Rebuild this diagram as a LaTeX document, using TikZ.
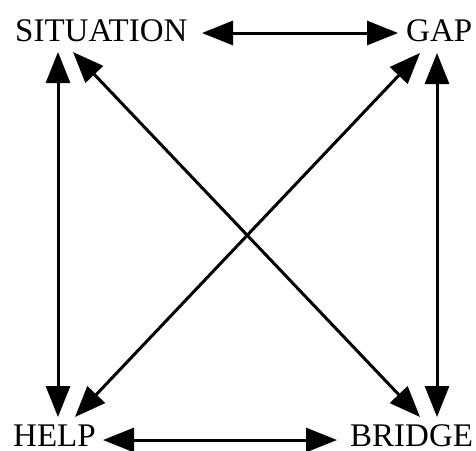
\documentclass[tikz,border=0pt]{standalone}
\usepackage{fontspec}
\setmainfont{Liberation Serif}
\usetikzlibrary{arrows.meta}
\tikzset{
  lbl/.style={inner sep=0pt, anchor=base west, font=\fontsize{33}{36}\selectfont},
  dbl/.style={line width=3pt, {Triangle[length=31pt,width=24pt]}-{Triangle[length=31pt,width=24pt]}}
}
\begin{document}
\begin{tikzpicture}[x=1pt,y=-1pt]
\useasboundingbox (0,0) rectangle (476,450);
\node[lbl] (sit) at (15,41) {SITUATION};
\node[lbl] (gap) at (406,41) {GAP};
\node[lbl] (help) at (13,446) {HELP};
\node[lbl] (bridge) at (350,446) {BRIDGE};
\draw[dbl] ([shift={(187,-8)}]sit.base west) -- ([shift={(-8,-8)}]gap.base west);
\draw[dbl] ([shift={(90,-6)}]help.base west) -- ([shift={(-13,-6)}]bridge.base west);
\draw[dbl] ([shift={(43,11)}]sit.base west) -- ([shift={(45,-29)}]help.base west);
\draw[dbl] ([shift={(31,12)}]gap.base west) -- ([shift={(87,-29)}]bridge.base west);
\draw[dbl] ([shift={(58,11)}]sit.base west) -- ([shift={(70,-29)}]bridge.base west);
\draw[dbl] ([shift={(14,12)}]gap.base west) -- ([shift={(62,-29)}]help.base west);
\end{tikzpicture}
\end{document}
